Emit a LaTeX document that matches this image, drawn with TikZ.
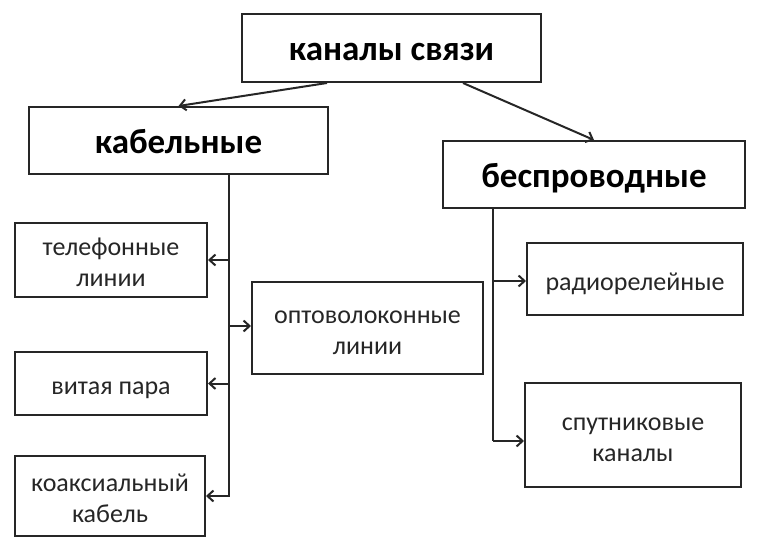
\documentclass[tikz,border=0pt]{standalone}
\usepackage{fontspec}
\setmainfont{Carlito}
\usetikzlibrary{arrows.meta}
\newcommand\boxtxt[1]{\raisebox{-5pt}[\height][\depth]{\begin{tabular}{@{}c@{}}#1\end{tabular}}}
\begin{document}
\begin{tikzpicture}[x=1pt,y=-1pt,
  box/.style={draw=black!85, line width=2pt, inner sep=0pt, text=black!85, font=\fontsize{26}{31}\selectfont},
  bbox/.style={box, text=black, font=\fontsize{35}{40}\selectfont\bfseries},
  conn/.style={draw=black!85, line width=2pt},
  arr/.style={conn, -{Straight Barb[length=6pt,width=11pt,line width=2pt]}}]
\useasboundingbox (0,0) rectangle (758,548);
\node[bbox, minimum width=299pt, minimum height=68pt] (top) at (391.5,48) {\boxtxt{каналы связи}};
\node[bbox, minimum width=299pt, minimum height=67pt] (kab) at (178.5,140.5) {\boxtxt{кабельные}};
\node[bbox, minimum width=302pt, minimum height=67pt] (besp) at (594,174.5) {\boxtxt{беспроводные}};
\node[box, minimum width=192pt, minimum height=74pt] (tel) at (111,260) {\boxtxt{телефонные\\линии}};
\node[box, minimum width=231pt, minimum height=92pt] (opt) at (367.5,328) {\boxtxt{оптоволоконные\\линии}};
\node[box, minimum width=192pt, minimum height=63pt] (vit) at (111,383.5) {\boxtxt{витая пара}};
\node[box, minimum width=190pt, minimum height=80pt] (koax) at (110,496) {\boxtxt{коаксиальный\\кабель}};
\node[box, minimum width=216pt, minimum height=72pt] (radio) at (635,279) {\boxtxt{радиорелейные}};
\node[box, minimum width=216pt, minimum height=104pt] (sput) at (633,435) {\boxtxt{спутниковые\\каналы}};
\draw[arr] ([xshift=-64.5pt]top.south) -- (kab.north);
\draw[arr] ([xshift=71.5pt]top.south) -- (besp.north);
\coordinate (kv) at (229,497);
\draw[conn] (kab.south -| kv) -- (kv);
\draw[arr] (kv |- tel.east) -- (tel.east);
\draw[arr] (229,326) -- (opt.west |- 0,326);
\draw[arr] (kv |- vit.east) -- (vit.east);
\draw[arr] (kv |- koax.east) -- (koax.east);
\coordinate (bv) at (493,441);
\draw[conn] (besp.south -| bv) -- (bv);
\draw[arr] (493,281) -- (radio.west |- 0,281);
\draw[arr] (bv) -- (sput.west |- bv);
\end{tikzpicture}
\end{document}
